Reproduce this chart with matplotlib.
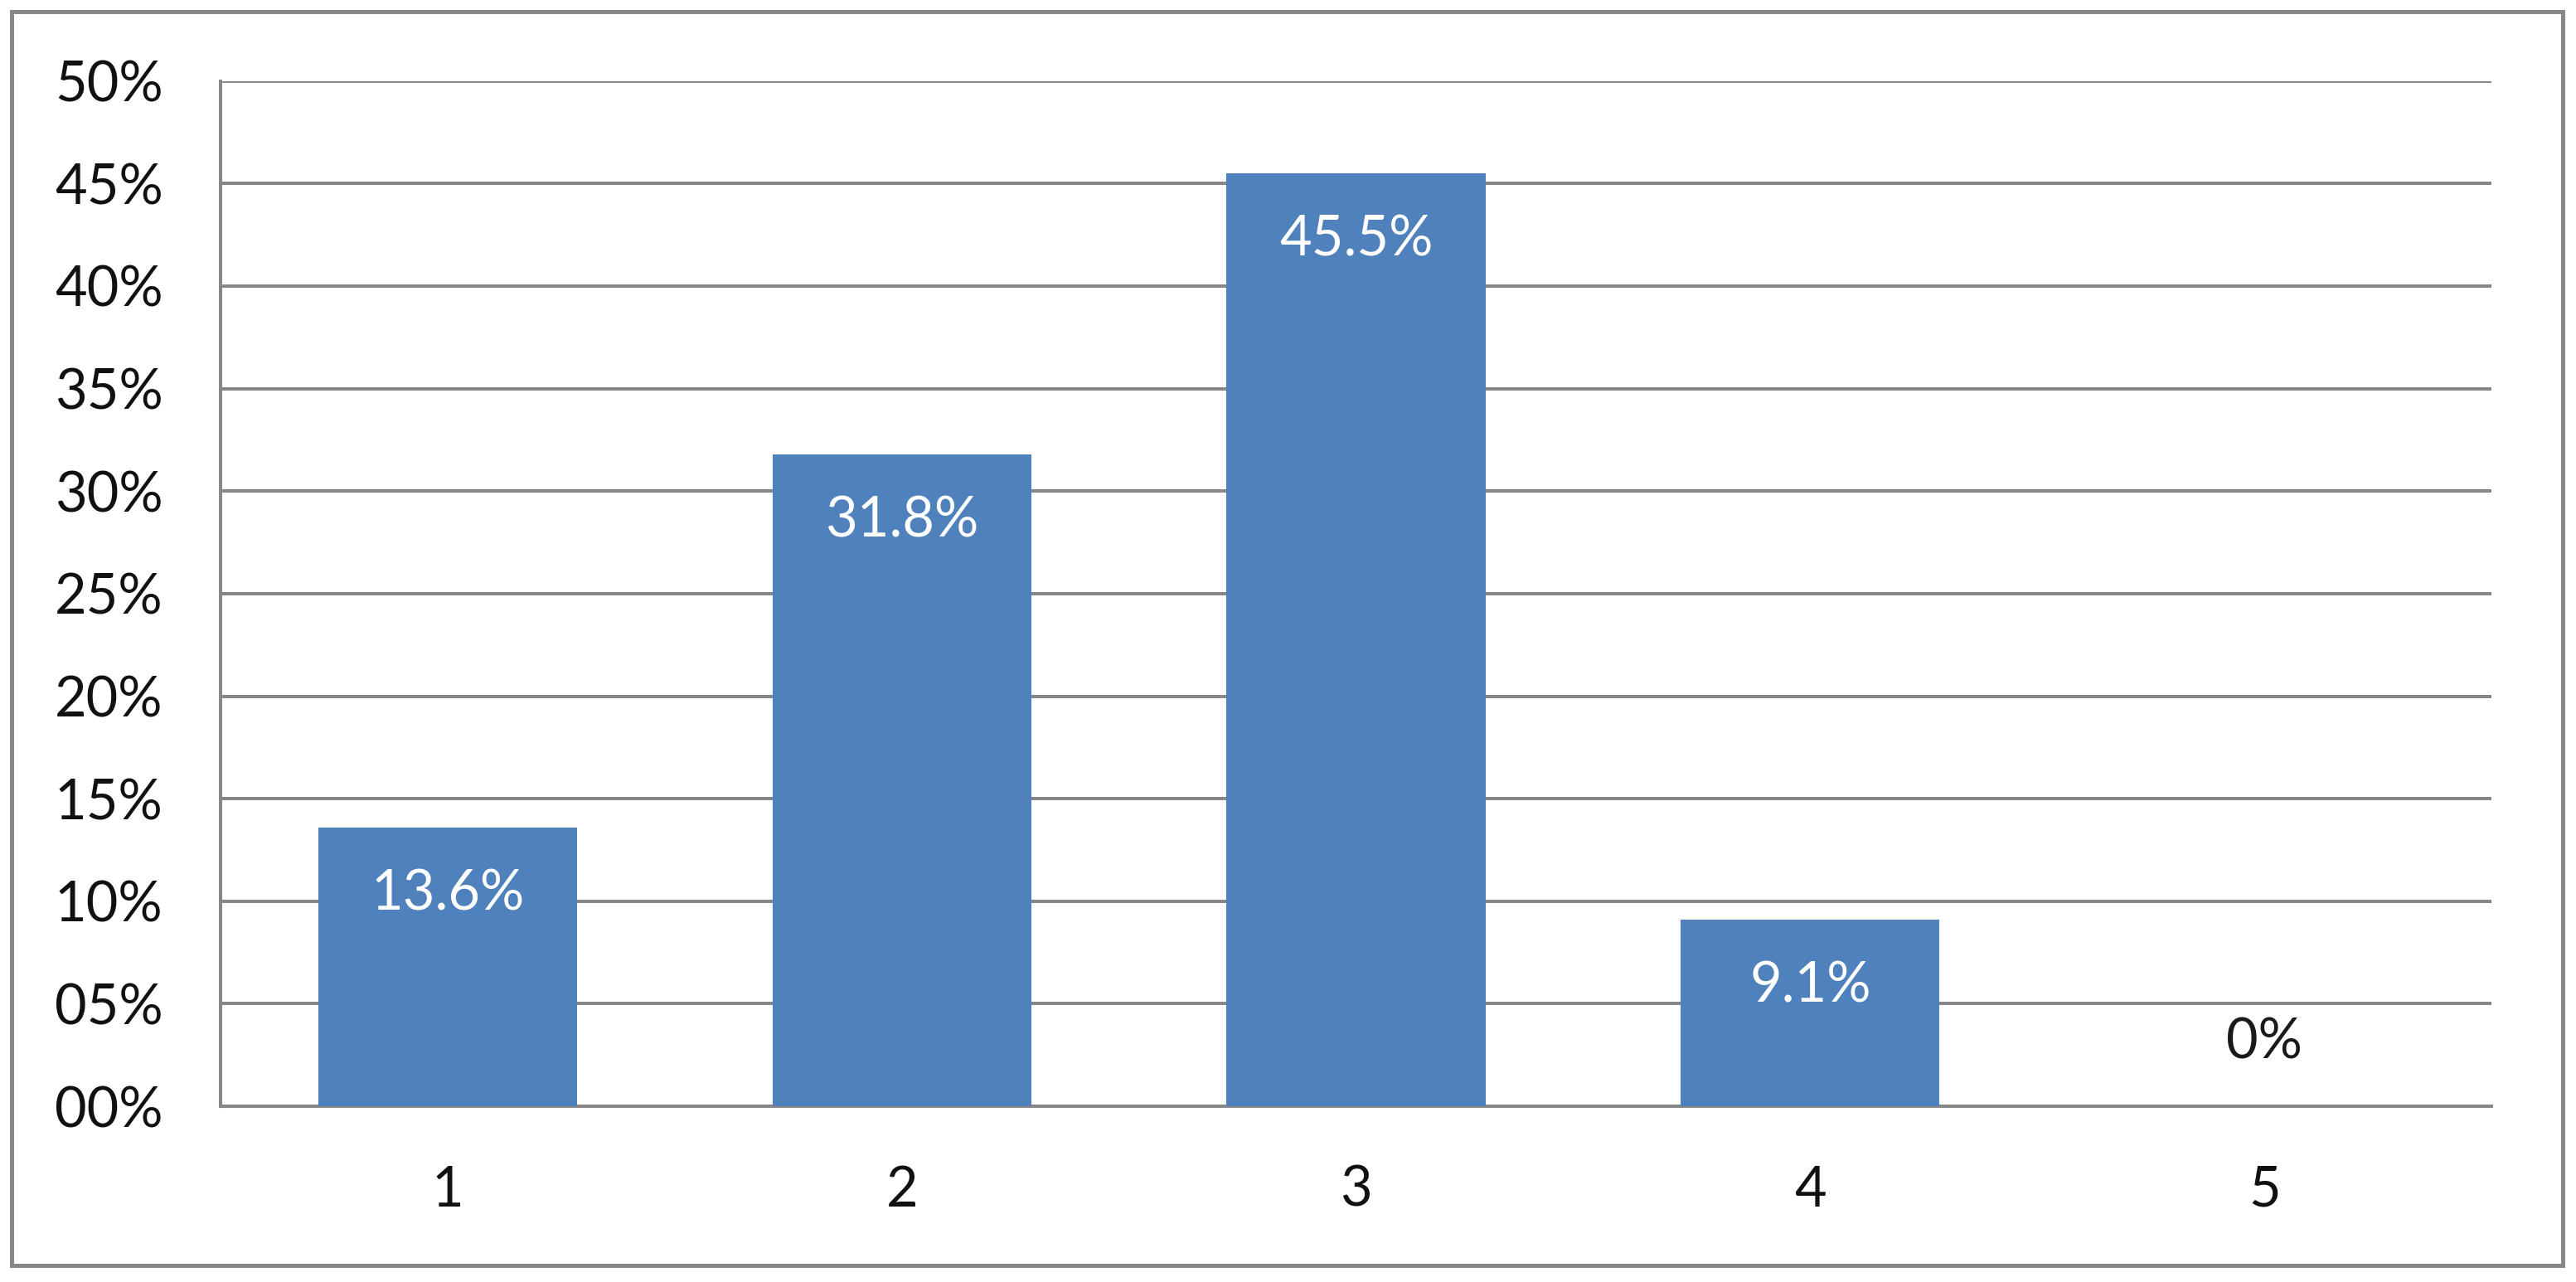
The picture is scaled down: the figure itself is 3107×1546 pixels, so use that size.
import matplotlib
matplotlib.use('Agg')
import matplotlib.pyplot as plt
from matplotlib.patches import Rectangle

categories = ['1', '2', '3', '4', '5']
values = [13.6, 31.8, 45.5, 9.1, 0.0]
labels = ['13.6%', '31.8%', '45.5%', '9.1%', '0%']
yticks = [0, 5, 10, 15, 20, 25, 30, 35, 40, 45, 50]

plt.rcParams['font.family'] = ['Lato', 'DejaVu Sans']
grey = '#878787'
bar_color = '#4F81BD'

fig = plt.figure(figsize=(31.07, 15.46), dpi=100)
ax = fig.add_axes([0.0856, 0.1371, 0.8816, 0.7997])

x = range(1, len(categories) + 1)
ax.bar(x, values, width=0.57, color=bar_color, zorder=3)

# data labels: white inside the bars, dark above an empty bar
for xi, v, lab in zip(x, values, labels):
    if v > 0:
        ax.annotate(lab, (xi, v), xytext=(0, -58), textcoords='offset points',
                    ha='center', va='center', color='white', fontsize=48, zorder=4)
    else:
        ax.annotate(lab, (xi, v), xytext=(0, 55), textcoords='offset points',
                    ha='center', va='center', color='#1a1a1a', fontsize=48, zorder=4)

ax.set_xlim(0.5, 5.5)
ax.set_ylim(0, 50)
ax.set_yticks(yticks)
ax.set_yticklabels(['%02d%%' % t for t in yticks])
ax.set_xticks(list(x))
ax.set_xticklabels(categories)
ax.tick_params(axis='both', length=0, labelsize=48, colors='#111111')
ax.tick_params(axis='x', pad=51)
ax.tick_params(axis='y', pad=50)

ax.yaxis.grid(True, color=grey, linewidth=2.9, zorder=0)
ax.set_axisbelow(True)
for side in ['top', 'right']:
    ax.spines[side].set_visible(False)
for side in ['left', 'bottom']:
    ax.spines[side].set_color(grey)
    ax.spines[side].set_linewidth(2.9)

# outer chart border
fig.patches.append(Rectangle((0.0045, 0.0129), 0.9904, 0.9781, transform=fig.transFigure,
                             fill=False, edgecolor=grey, linewidth=3.6))

plt.savefig('out.png', dpi=100)
plt.close()
